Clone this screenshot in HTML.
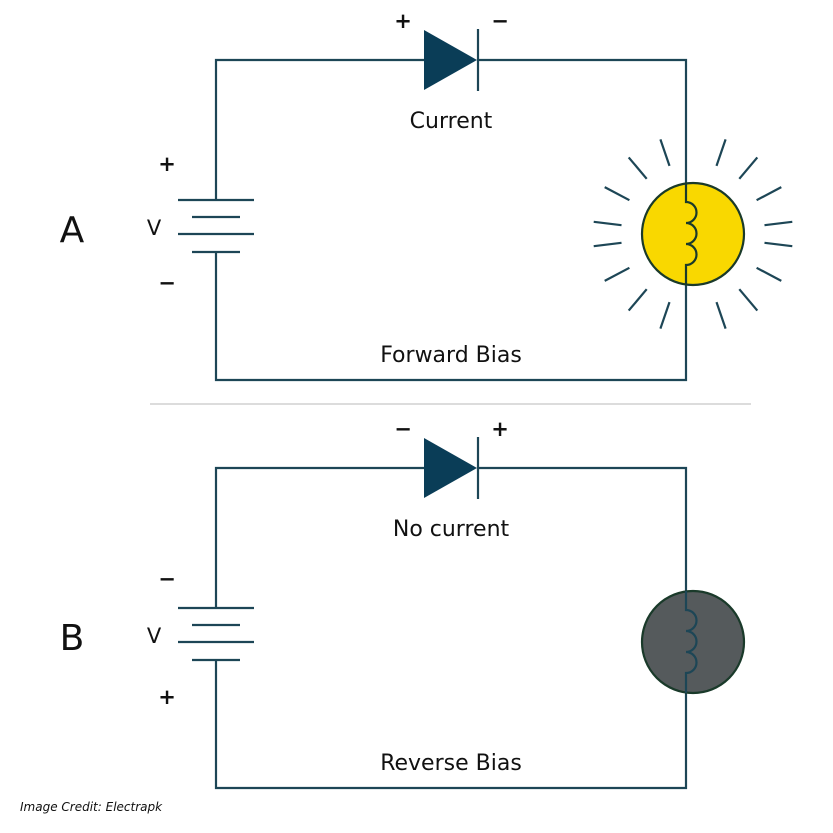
<!DOCTYPE html>
<html><head><meta charset="utf-8"><style>
html,body{margin:0;padding:0;background:#fff;width:833px;height:833px;overflow:hidden}
text{font-family:"DejaVu Sans","Liberation Sans",sans-serif;fill:#111}
</style></head><body>
<svg width="833" height="833" viewBox="0 0 833 833" xmlns="http://www.w3.org/2000/svg">
<defs>
<g id="rays" stroke="#1d4656" stroke-width="2.2" stroke-linecap="butt">
<line x1="764.5" y1="225.2" x2="792.3" y2="221.8"/>
<line x1="756.6" y1="200.2" x2="781.3" y2="187.1"/>
<line x1="739.3" y1="178.8" x2="757.3" y2="157.4"/>
<line x1="716.5" y1="165.9" x2="725.6" y2="139.4"/>
<line x1="621.5" y1="225.2" x2="593.7" y2="221.8"/>
<line x1="629.4" y1="200.2" x2="604.7" y2="187.1"/>
<line x1="646.7" y1="178.8" x2="628.7" y2="157.4"/>
<line x1="669.5" y1="165.9" x2="660.4" y2="139.4"/>
<line x1="764.5" y1="242.8" x2="792.3" y2="246.2"/>
<line x1="756.6" y1="267.8" x2="781.3" y2="280.9"/>
<line x1="739.3" y1="289.2" x2="757.3" y2="310.6"/>
<line x1="716.5" y1="302.1" x2="725.6" y2="328.6"/>
<line x1="621.5" y1="242.8" x2="593.7" y2="246.2"/>
<line x1="629.4" y1="267.8" x2="604.7" y2="280.9"/>
<line x1="646.7" y1="289.2" x2="628.7" y2="310.6"/>
<line x1="669.5" y1="302.1" x2="660.4" y2="328.6"/>
</g>
</defs>

<!-- Circuit A -->
<g stroke="#1d4656" stroke-width="2.2" fill="none">
<path d="M216 200 V60 H424 M478 60 H686 V202 M686 266 V380 H216 V252"/>
<line x1="178" y1="200" x2="254" y2="200"/>
<line x1="192" y1="217" x2="240" y2="217"/>
<line x1="178" y1="234" x2="254" y2="234"/>
<line x1="192" y1="252" x2="240" y2="252"/>
<line x1="478" y1="29" x2="478" y2="91"/>
</g>
<polygon points="424,30 477,60 424,90" fill="#0a3d57"/>
<use href="#rays"/>
<circle cx="693" cy="234" r="51" fill="#f9d800" stroke="#1a3a2a" stroke-width="2.2"/>
<path d="M686 183 V202 a10.5 10.5 0 0 1 0 21 a10.5 10.5 0 0 1 0 21 a10.5 10.5 0 0 1 0 21 V285" fill="none" stroke="#1a3a2a" stroke-width="2.2"/>

<text x="403" y="28" font-size="21" text-anchor="middle" font-weight="bold">+</text>
<text x="500" y="28" font-size="21" text-anchor="middle" font-weight="bold">−</text>
<text x="451" y="128" font-size="22" text-anchor="middle">Current</text>
<text x="167" y="171" font-size="21" text-anchor="middle" font-weight="bold">+</text>
<text x="167" y="290" font-size="21" text-anchor="middle" font-weight="bold">−</text>
<text x="154" y="235" font-size="21" text-anchor="middle">V</text>
<text x="72" y="242" font-size="36" text-anchor="middle">A</text>
<text x="451" y="362" font-size="22" text-anchor="middle">Forward Bias</text>

<line x1="150" y1="404" x2="751" y2="404" stroke="#c8c8c8" stroke-width="1.2"/>

<!-- Circuit B -->
<g stroke="#1d4656" stroke-width="2.2" fill="none">
<path d="M216 608 V468 H424 M478 468 H686 V610 M686 674 V788 H216 V660"/>
<line x1="178" y1="608" x2="254" y2="608"/>
<line x1="192" y1="625" x2="240" y2="625"/>
<line x1="178" y1="642" x2="254" y2="642"/>
<line x1="192" y1="660" x2="240" y2="660"/>
<line x1="478" y1="437" x2="478" y2="499"/>
</g>
<polygon points="424,438 477,468 424,498" fill="#0a3d57"/>
<circle cx="693" cy="642" r="51" fill="#555a5c" stroke="#1a3a2a" stroke-width="2.2"/>
<path d="M686 591 V610 a10.5 10.5 0 0 1 0 21 a10.5 10.5 0 0 1 0 21 a10.5 10.5 0 0 1 0 21 V693" fill="none" stroke="#1d4656" stroke-width="2.2"/>

<text x="403" y="436" font-size="21" text-anchor="middle" font-weight="bold">−</text>
<text x="500" y="436" font-size="21" text-anchor="middle" font-weight="bold">+</text>
<text x="451" y="536" font-size="22" text-anchor="middle">No current</text>
<text x="167" y="586" font-size="21" text-anchor="middle" font-weight="bold">−</text>
<text x="167" y="704" font-size="21" text-anchor="middle" font-weight="bold">+</text>
<text x="154" y="643" font-size="21" text-anchor="middle">V</text>
<text x="72" y="650" font-size="36" text-anchor="middle">B</text>
<text x="451" y="770" font-size="22" text-anchor="middle">Reverse Bias</text>

<text x="20" y="811" font-size="12" font-style="italic">Image Credit: Electrapk</text>
</svg>
</body></html>
